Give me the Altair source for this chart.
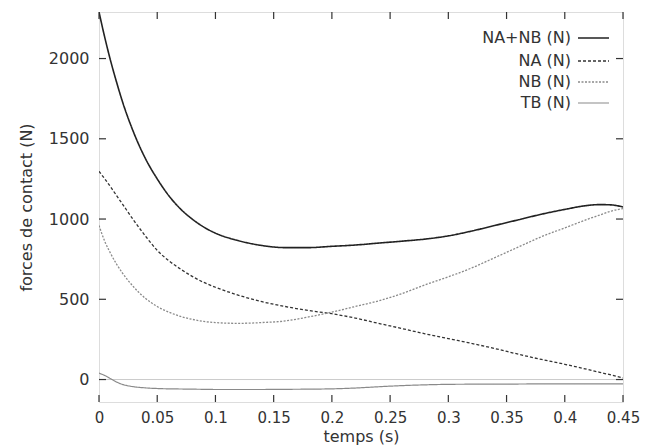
import altair as alt
import pandas as pd

# time grid (s)
t = [0, 0.005, 0.01, 0.015, 0.02, 0.03, 0.04, 0.05, 0.06, 0.07, 0.08, 0.09, 0.1,
     0.12, 0.14, 0.16, 0.18, 0.2, 0.22, 0.24, 0.26, 0.28, 0.3, 0.32, 0.34, 0.36,
     0.38, 0.4, 0.42, 0.43, 0.44, 0.45]

na_nb = [2290, 2130, 1985, 1855, 1735, 1535, 1375, 1250, 1145, 1063, 1000, 950, 912,
         865, 835, 822, 822, 830, 838, 850, 862, 875, 895, 925, 960, 995,
         1030, 1060, 1085, 1090, 1088, 1075]
na = [1297, 1250, 1200, 1147, 1095, 990, 893, 805, 740, 688, 643, 605, 575,
      525, 485, 455, 430, 410, 383, 350, 318, 285, 255, 225, 193, 158,
      125, 95, 62, 45, 28, 10]
nb = [960, 860, 785, 720, 665, 575, 505, 455, 420, 393, 375, 362, 355,
      350, 355, 365, 390, 420, 455, 490, 535, 590, 640, 695, 760, 825,
      890, 945, 1000, 1025, 1050, 1065]
tb = [40, 25, 5, -15, -30, -45, -52, -56, -58, -59, -60, -61, -62,
      -62, -62, -61, -60, -58, -53, -45, -38, -33, -30, -29, -28, -28,
      -27, -27, -27, -27, -27, -27]

series_names = ["NA+NB (N)", "NA (N)", "NB (N)", "TB (N)"]
series_values = [na_nb, na, nb, tb]
series_color = ["#222222", "#333333", "#8a8a8a", "#8a8a8a"]
series_dash = [[1, 0], [3, 2], [2, 1.5], [1, 0]]
series_width = [1.6, 1.3, 1.3, 1.2]

x_ticks = [0, 0.05, 0.1, 0.15, 0.2, 0.25, 0.3, 0.35, 0.4, 0.45]
y_ticks = [0, 500, 1000, 1500, 2000]

W, H = 524, 390
FONT = "DejaVu Sans"
FS = 16

xscale = alt.Scale(domain=[0, 0.45], nice=False, zero=False)
yscale = alt.Scale(domain=[-140, 2290], nice=False, zero=False)

xaxis = alt.Axis(values=x_ticks, format="~g", title="temps (s)", tickSize=0,
                 domain=False, grid=False, labelPadding=8, titlePadding=3,
                 labelFont=FONT, labelFontSize=15, titleFont=FONT, titleFontSize=FS,
                 titleFontWeight="normal", labelColor="#333", titleColor="#333",
                 labelFlush=False)
yaxis = alt.Axis(values=y_ticks, format="d", title="forces de contact (N)", tickSize=0,
                 domain=False, grid=False, labelPadding=10, titlePadding=14,
                 labelFont=FONT, labelFontSize=FS, titleFont=FONT, titleFontSize=FS,
                 titleFontWeight="normal", labelColor="#333", titleColor="#333")

layers = []

# zero line
zero = alt.Chart(pd.DataFrame({"z": [0]})).mark_rule(color="#cccccc", strokeWidth=1).encode(
    y=alt.Y("z:Q", scale=yscale, axis=yaxis), x=alt.value(0), x2=alt.value(W))
layers.append(zero)

for i, name in enumerate(series_names):
    df = pd.DataFrame({"t": t, "v": series_values[i]})
    ln = alt.Chart(df).mark_line(
        color=series_color[i], strokeDash=series_dash[i], strokeWidth=series_width[i],
        interpolate="monotone", clip=True
    ).encode(
        x=alt.X("t:Q", scale=xscale, axis=xaxis),
        y=alt.Y("v:Q", scale=yscale, axis=yaxis),
    )
    layers.append(ln)

# inside ticks (mirrored), placed through the scales
xt = pd.DataFrame({"t": x_ticks})
yt = pd.DataFrame({"v": y_ticks})
tick_color = "#333333"
layers.append(alt.Chart(xt).mark_rule(color=tick_color, strokeWidth=1.2).encode(
    x=alt.X("t:Q", scale=xscale, axis=xaxis), y=alt.value(H), y2=alt.value(H - 7)))
layers.append(alt.Chart(xt).mark_rule(color=tick_color, strokeWidth=1.2).encode(
    x=alt.X("t:Q", scale=xscale, axis=xaxis), y=alt.value(0), y2=alt.value(7)))
layers.append(alt.Chart(yt).mark_rule(color=tick_color, strokeWidth=1.2).encode(
    y=alt.Y("v:Q", scale=yscale, axis=yaxis), x=alt.value(0), x2=alt.value(7)))
layers.append(alt.Chart(yt).mark_rule(color=tick_color, strokeWidth=1.2).encode(
    y=alt.Y("v:Q", scale=yscale, axis=yaxis), x=alt.value(W), x2=alt.value(W - 7)))

# legend (top right, gnuplot style: label then sample line)
row_y = [26, 49, 70, 91]
for i, name in enumerate(series_names):
    one = pd.DataFrame({"s": [name]})
    layers.append(alt.Chart(one).mark_text(
        align="right", baseline="middle", font=FONT, fontSize=FS, color="#333"
    ).encode(text="s:N", x=alt.value(W - 52), y=alt.value(row_y[i])))
    layers.append(alt.Chart(one).mark_rule(
        color=series_color[i], strokeDash=series_dash[i], strokeWidth=series_width[i]
    ).encode(x=alt.value(W - 45), x2=alt.value(W - 14), y=alt.value(row_y[i])))

chart = alt.layer(*layers).properties(
    width=W, height=H,
    padding={"left": 91, "top": 4, "right": 19, "bottom": 46},
    autosize=alt.AutoSizeParams(type="none"),
).configure_view(stroke="#333333", strokeWidth=1.3).configure(background="white")

chart.save("out.html", embed_options={"renderer": "svg", "actions": False})
